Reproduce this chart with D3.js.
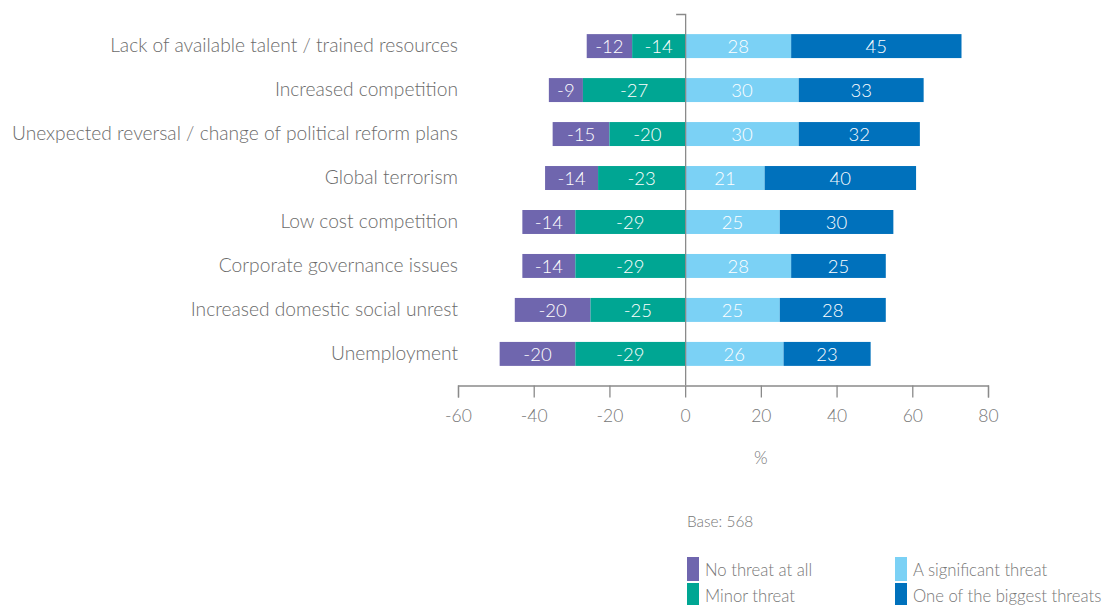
<!DOCTYPE html>
<html>
<head>
<meta charset="utf-8">
<script src="https://cdn.jsdelivr.net/npm/d3@7"></script>
<style>
  html, body { margin: 0; padding: 0; background: #fff; }
  svg { display: block; font-family: Lato, "Open Sans", sans-serif; font-weight: 300; }
</style>
</head>
<body>
<svg id="chart" width="1105" height="605"></svg>
<script>
// Threat ratings per issue (percent of respondents); "no threat" and "minor" are plotted as negatives
const categories = [
  "Lack of available talent / trained resources",
  "Increased competition",
  "Unexpected reversal / change of political reform plans",
  "Global terrorism",
  "Low cost competition",
  "Corporate governance issues",
  "Increased domestic social unrest",
  "Unemployment"
];
const noThreat    = [-12, -9, -15, -14, -14, -14, -20, -20];
const minorThreat = [-14, -27, -20, -23, -29, -29, -25, -29];
const significant = [28, 30, 30, 21, 25, 28, 25, 26];
const biggest     = [45, 33, 32, 40, 30, 25, 28, 23];
const xTicks = [-60, -40, -20, 0, 20, 40, 60, 80];

const seriesNames  = ["No threat at all", "Minor threat", "A significant threat", "One of the biggest threats"];
const seriesColors = ["#6f66ae", "#00a693", "#7bd1f5", "#0071bc"];

const svg = d3.select("#chart");

const x = d3.scaleLinear().domain([-60, 80]).range([458, 988]);
const y = d3.scaleBand().domain(categories).range([24, 376]).paddingInner(0.455).paddingOuter(0.23);

// Stacked segments: negatives grow leftward from zero, positives rightward
const segments = categories.flatMap((c, i) => {
  const minorEnd = minorThreat[i];
  const noEnd = minorEnd + noThreat[i];
  const sigEnd = significant[i];
  const bigEnd = sigEnd + biggest[i];
  return [
    { cat: c, s: 0, v: noThreat[i],    x0: noEnd,    x1: minorEnd },
    { cat: c, s: 1, v: minorThreat[i], x0: minorEnd, x1: 0 },
    { cat: c, s: 2, v: significant[i], x0: 0,        x1: sigEnd },
    { cat: c, s: 3, v: biggest[i],     x0: sigEnd,   x1: bigEnd }
  ];
});

const bars = svg.append("g");
bars.selectAll("rect")
  .data(segments)
  .join("rect")
  .attr("x", d => x(d.x0))
  .attr("width", d => x(d.x1) - x(d.x0))
  .attr("y", d => y(d.cat))
  .attr("height", y.bandwidth())
  .attr("fill", d => seriesColors[d.s]);

bars.selectAll("text")
  .data(segments)
  .join("text")
  .attr("x", d => (x(d.x0) + x(d.x1)) / 2)
  .attr("y", d => y(d.cat) + y.bandwidth() / 2)
  .attr("dy", "0.36em")
  .attr("text-anchor", "middle")
  .attr("fill", "#fff")
  .attr("font-size", 18.5)
  .text(d => d.v);

// Category labels
svg.append("g").selectAll("text")
  .data(categories)
  .join("text")
  .attr("x", 458)
  .attr("y", d => y(d) + y.bandwidth() / 2)
  .attr("dy", "0.32em")
  .attr("text-anchor", "end")
  .attr("fill", "#6b6b6b")
  .attr("font-size", 19.2)
  .text(d => d);

// Vertical zero line with a small cap at the top
const axisColor = "#8a8a8a";
svg.append("path")
  .attr("d", `M${x(0) - 9},14.5H${x(0) + 0.5}V385`)
  .attr("fill", "none")
  .attr("stroke", axisColor)
  .attr("stroke-width", 1.3);

// Bottom axis
const xAxis = d3.axisBottom(x).tickValues(xTicks).tickSize(12).tickSizeOuter(12).tickPadding(12);
const gx = svg.append("g")
  .attr("transform", "translate(0,385.5)")
  .call(xAxis);
gx.select(".domain").attr("stroke", axisColor).attr("stroke-width", 1.3);
gx.selectAll(".tick line").attr("stroke", axisColor).attr("stroke-width", 1.3);
gx.selectAll(".tick text")
  .attr("fill", "#777")
  .attr("font-size", 17.5)
  .attr("font-family", "Lato, sans-serif")
  .attr("font-weight", 300)
  .text(d => d);

svg.append("text")
  .attr("x", x(20))
  .attr("y", 464)
  .attr("text-anchor", "middle")
  .attr("fill", "#777")
  .attr("font-size", 17.5)
  .text("%");

svg.append("text")
  .attr("x", 687)
  .attr("y", 527)
  .attr("fill", "#777")
  .attr("font-size", 15.4)
  .text("Base: 568");

// Legend in two columns
const legendPos = [
  { x: 687, y: 557 }, { x: 687, y: 583 },
  { x: 895, y: 557 }, { x: 895, y: 583 }
];
const lg = svg.append("g").selectAll("g")
  .data(seriesNames)
  .join("g")
  .attr("transform", (d, i) => `translate(${legendPos[i].x},${legendPos[i].y})`);
lg.append("rect")
  .attr("width", 12)
  .attr("height", 24)
  .attr("fill", (d, i) => seriesColors[i]);
lg.append("text")
  .attr("x", 18)
  .attr("y", 19)
  .attr("fill", "#777")
  .attr("font-size", 16.7)
  .text(d => d);
</script>
</body>
</html>
